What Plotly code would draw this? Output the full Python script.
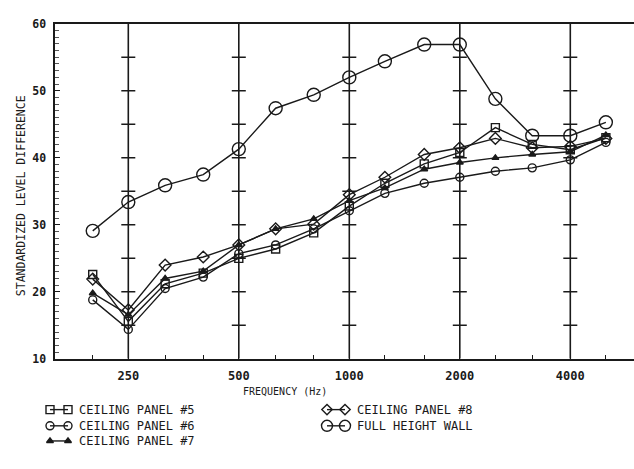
import plotly.graph_objects as go

# ---------------- data ----------------
freqs = [200, 250, 315, 400, 500, 630, 800, 1000, 1250, 1600, 2000, 2500, 3150, 4000, 5000]
octave_ticks = [250, 500, 1000, 2000, 4000]
octave_labels = ["250", "500", "1000", "2000", "4000"]
y_tick_start, y_tick_step = 10, 10
cross_levels = [15, 20, 25, 30, 35, 40, 45, 50, 55]

panel5 = [22.6, 15.6, 21.2, 22.8, 25.0, 26.4, 28.8, 32.8, 36.2, 39.1, 40.8, 44.5, 42.0, 41.2, 43.0]
panel6 = [18.8, 14.4, 20.5, 22.2, 25.7, 27.0, 29.4, 32.1, 34.7, 36.2, 37.1, 38.0, 38.5, 39.7, 42.3]
panel7 = [19.8, 16.6, 22.0, 23.1, 27.0, 29.4, 30.9, 33.6, 35.5, 38.3, 39.3, 40.0, 40.5, 40.9, 43.4]
panel8 = [21.9, 17.3, 24.0, 25.2, 27.0, 29.4, 30.1, 34.5, 37.1, 40.5, 41.5, 42.9, 41.5, 41.7, 42.9]
wall   = [29.1, 33.4, 35.9, 37.5, 41.3, 47.4, 49.4, 52.0, 54.4, 56.9, 56.9, 48.8, 43.3, 43.3, 45.3]

series_names = ["CEILING PANEL #5", "CEILING PANEL #6", "CEILING PANEL #7",
                "CEILING PANEL #8", "FULL HEIGHT WALL"]
series_values = [panel5, panel6, panel7, panel8, wall]

x_title = "FREQUENCY (Hz)"
y_title = "STANDARDIZED LEVEL DIFFERENCE"

# ---------------- styles ----------------
INK = "#1a1a1a"
FONT = "DejaVu Sans Mono"
W, H = 634, 469
symbols = ["square-open", "circle-open", "triangle-up", "diamond-open", "circle-open"]
sizes = [8, 8, 6, 9, 13]
leg_sizes = [8, 8, 6, 8, 11]

plot_left, plot_top, plot_bottom = 54.5, 17.3, 362.7
x_dom = [plot_left / W, 1.0]
y_dom = [1 - plot_bottom / H, 1 - plot_top / H]

# log-x range: 250 Hz at px 128.3, 110.5 px per octave
px_per_dec = 110.5 * 3.321928
left_log = 2.39794 - (128.3 - plot_left) / px_per_dec
right_log = left_log + (W - plot_left) / px_per_dec

fig = go.Figure()

# octave grid lines
for f in octave_ticks:
    fig.add_trace(go.Scatter(x=[f, f], y=[10, 60], mode="lines",
                             line=dict(color=INK, width=1.6),
                             showlegend=False, hoverinfo="skip"))
# crosses on the grid lines
fig.add_trace(go.Scatter(
    x=[f for f in octave_ticks for _ in cross_levels],
    y=[v for _ in octave_ticks for v in cross_levels],
    mode="markers",
    marker=dict(symbol="line-ew", size=10, line=dict(color=INK, width=1.5)),
    showlegend=False, hoverinfo="skip"))

# data series
for name, vals, sym, sz in zip(series_names, series_values, symbols, sizes):
    fig.add_trace(go.Scatter(
        x=freqs, y=vals, mode="lines+markers", name=name,
        line=dict(color=INK, width=1.4),
        marker=dict(symbol=sym, size=sz, color=INK, line=dict(color=INK, width=1.4)),
        showlegend=False, xaxis="x", yaxis="y"))

# custom legend drawn on a pixel-space overlay axis
leg_h = 0.2 * H
def py(y):  # pixel y -> overlay y value
    return H - y

leg_pos = [  # (marker1 x, marker2 x, text x, row y)
    (50, 68, 77, 415.0),
    (50, 68, 77, 431.7),
    (50, 68, 77, 447.3),
    (327, 345, 355, 415.0),
    (327, 345, 355, 431.7),
]
for name, sym, sz, (m1, m2, tx, ry) in zip(series_names, symbols, leg_sizes, leg_pos):
    fig.add_trace(go.Scatter(
        x=[m1, m2], y=[py(ry), py(ry)], mode="lines+markers",
        line=dict(color=INK, width=1.4),
        marker=dict(symbol=sym, size=sz, color=INK, line=dict(color=INK, width=1.4)),
        showlegend=False, hoverinfo="skip", xaxis="x2", yaxis="y2"))
    fig.add_annotation(x=tx, y=py(ry), xref="x2", yref="y2", text=name,
                       showarrow=False, xanchor="left", yanchor="middle",
                       font=dict(family=FONT, size=12, color=INK))

# axis titles
fig.add_annotation(x=285 / W, y=1 - 396.7 / H, xref="paper", yref="paper",
                   text=x_title, showarrow=False, xanchor="center", yanchor="middle",
                   font=dict(family=FONT, size=10, color=INK))
fig.add_annotation(x=21 / W, y=1 - 195 / H, xref="paper", yref="paper",
                   text=y_title, textangle=-90, showarrow=False,
                   xanchor="center", yanchor="middle",
                   font=dict(family=FONT, size=11.5, color=INK))

tick_text = [octave_labels[octave_ticks.index(f)] if f in octave_ticks else "" for f in freqs]

fig.update_layout(
    width=W, height=H,
    margin=dict(l=0, r=0, t=0, b=0),
    paper_bgcolor="white", plot_bgcolor="white",
    showlegend=False,
    xaxis=dict(type="log", range=[left_log, right_log], domain=x_dom,
               tickvals=freqs, ticktext=tick_text, ticks="inside", ticklen=4,
               tickwidth=1.3, tickcolor=INK, ticklabelstandoff=5,
               showline=True, linewidth=2, linecolor=INK, mirror=True,
               showgrid=False, zeroline=False,
               tickfont=dict(family=FONT, size=12, color=INK, weight="bold"),
               anchor="y"),
    yaxis=dict(range=[10, 60], domain=y_dom, tickmode="linear",
               tick0=y_tick_start, dtick=y_tick_step,
               ticks="inside", ticklen=5, tickwidth=1.3, tickcolor=INK,
               minor=dict(dtick=1, ticks="inside", ticklen=4, tickwidth=1,
                          tickcolor="#555555", showgrid=False),
               showline=True, linewidth=2, linecolor=INK,
               showgrid=False, zeroline=False, ticklabelstandoff=4,
               tickfont=dict(family=FONT, size=11.5, color=INK, weight="bold"),
               anchor="x"),
    xaxis2=dict(domain=[0, 1], range=[0, W], visible=False, anchor="y2"),
    yaxis2=dict(domain=[0, 0.2], range=[0, leg_h], visible=False, anchor="x2"),
)

fig.write_html("out.html")
